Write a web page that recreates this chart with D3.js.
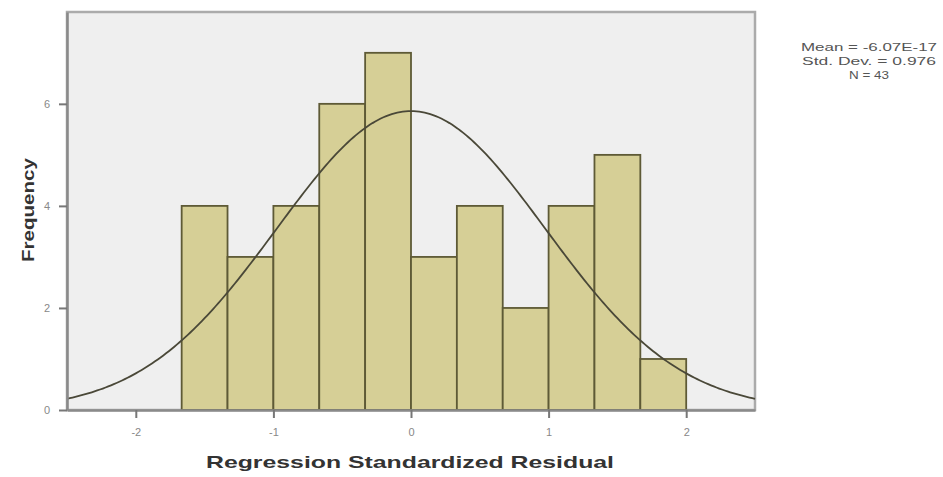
<!DOCTYPE html>
<html>
<head>
<meta charset="utf-8">
<script src="https://cdn.jsdelivr.net/npm/d3@7"></script>
<style>
  html, body { margin: 0; padding: 0; background: #ffffff; }
  svg { display: block; font-family: "Liberation Sans", Arial, sans-serif; }
</style>
</head>
<body>
<svg id="chart" width="943" height="477"></svg>
<script>
// Histogram bins (left edges, width 1/3) and frequencies
const binStarts = [-5/3, -4/3, -1, -2/3, -1/3, 0, 1/3, 2/3, 1, 4/3, 5/3];
const binWidth = 1/3;
const counts = [4, 3, 4, 6, 7, 3, 4, 2, 4, 5, 1];

// Axis ticks
const xTicks = [-2, -1, 0, 1, 2];
const yTicks = [0, 2, 4, 6];

// Summary statistics shown in the legend and used for the normal curve
const statMean = 0;
const statSD = 0.976;
const statN = 43;
const statLines = ["Mean = -6.07E-17", "Std. Dev. = 0.976", "N = 43"];

const svg = d3.select("#chart");
const m = { left: 67, top: 12, right: 755, bottom: 410 };

const x = d3.scaleLinear().domain([-2.5, 2.5]).range([m.left, m.right]);
const y = d3.scaleLinear().domain([0, 7.8]).range([m.bottom, m.top]);

// plot background with light frame
svg.append("rect")
  .attr("x", m.left).attr("y", m.top)
  .attr("width", m.right - m.left).attr("height", m.bottom - m.top)
  .attr("fill", "#efefef")
  .attr("stroke", "#ababab").attr("stroke-width", 2.5);

// bars
svg.append("g").selectAll("rect")
  .data(binStarts.map((s, i) => ({ s, c: counts[i] })))
  .join("rect")
  .attr("x", d => x(d.s))
  .attr("y", d => y(d.c))
  .attr("width", d => x(d.s + binWidth) - x(d.s))
  .attr("height", d => y(0) - y(d.c))
  .attr("fill", "#d6cf96")
  .attr("stroke", "#5e5a36")
  .attr("stroke-width", 1.8);

// fitted normal curve scaled to counts
const scaleK = statN * binWidth / (statSD * Math.sqrt(2 * Math.PI));
const curvePts = d3.range(-2.5, 2.5001, 0.02).map(v => [v, scaleK * Math.exp(-0.5 * ((v - statMean) / statSD) ** 2)]);
svg.append("path")
  .datum(curvePts)
  .attr("fill", "none")
  .attr("stroke", "#4a4838")
  .attr("stroke-width", 1.8)
  .attr("d", d3.line().x(d => x(d[0])).y(d => y(d[1])));

// axes
const fmt = d => String(d);
const xAxis = svg.append("g")
  .attr("transform", `translate(0,${m.bottom})`)
  .call(d3.axisBottom(x).tickValues(xTicks).tickSize(8).tickSizeOuter(0).tickPadding(10).tickFormat(fmt));
const yAxis = svg.append("g")
  .attr("transform", `translate(${m.left},0)`)
  .call(d3.axisLeft(y).tickValues(yTicks).tickSize(8).tickSizeOuter(0).tickPadding(9).tickFormat(fmt));
[xAxis, yAxis].forEach(a => {
  a.select(".domain").attr("stroke", "#8a8a8a").attr("stroke-width", 2.5);
  a.selectAll(".tick line").attr("stroke", "#777").attr("stroke-width", 2);
  a.selectAll(".tick text").attr("fill", "#888").style("font-size", "11px");
});

// axis titles
svg.append("text")
  .attr("x", 410).attr("y", 468)
  .attr("text-anchor", "middle")
  .attr("font-weight", "bold").attr("font-size", 17)
  .attr("textLength", 408).attr("lengthAdjust", "spacingAndGlyphs")
  .attr("fill", "#333")
  .text("Regression Standardized Residual");
svg.append("text")
  .attr("transform", "translate(34,210) rotate(-90)")
  .attr("text-anchor", "middle")
  .attr("font-weight", "bold").attr("font-size", 17)
  .attr("textLength", 104).attr("lengthAdjust", "spacingAndGlyphs")
  .attr("fill", "#333")
  .text("Frequency");

// statistics legend
const legendWidths = [136, 134, 40];
svg.append("g").selectAll("text")
  .data(statLines)
  .join("text")
  .attr("x", 869).attr("y", (d, i) => 51 + i * 14)
  .attr("text-anchor", "middle")
  .attr("font-size", 11)
  .attr("textLength", (d, i) => legendWidths[i]).attr("lengthAdjust", "spacingAndGlyphs")
  .attr("fill", "#555")
  .text(d => d);
</script>
</body>
</html>
